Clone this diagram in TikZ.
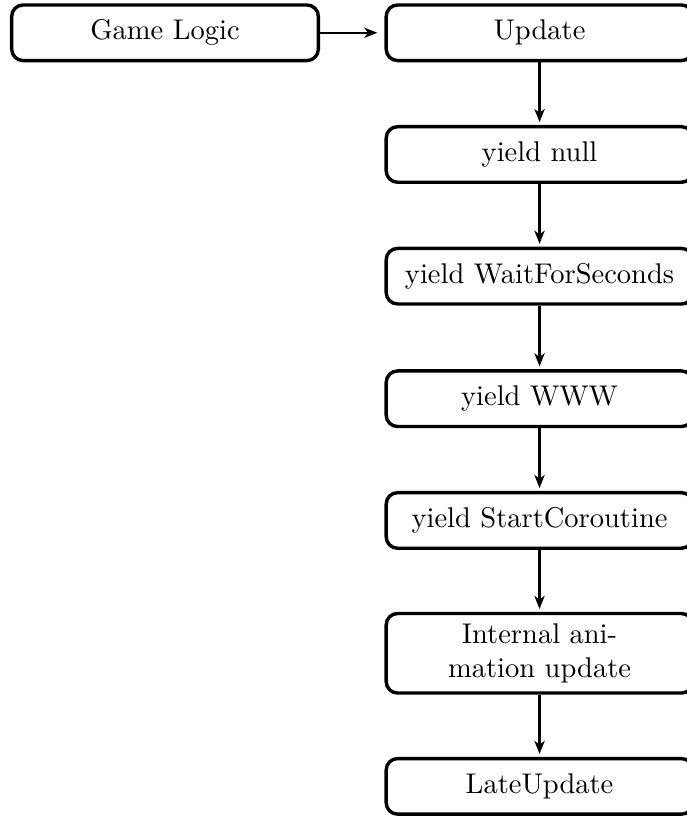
\documentclass[tikz,border=0pt]{standalone}
\usetikzlibrary{arrows.meta}
\begin{document}
\begin{tikzpicture}[x=1pt,y=1pt,
  stage/.style={draw, very thick, rounded corners=4pt, minimum width=107.6pt,
    minimum height=19.5pt, align=center, inner sep=2pt},
  flow/.style={thick, -{Stealth[length=4.6pt,width=3.6pt,inset=1.3pt]}, shorten >=1pt}]
\useasboundingbox (0,0) rectangle (240.7,-286.3);
% left: entry point
\node[stage] (logic) at (57.9,-11.5) {Game Logic};
% right: frame sequence
\node[stage] (update) at (189.3,-11.5) {Update};
\node[stage] (ynull) at (189.3,-54.2) {yield null};
\node[stage] (ywait) at (189.3,-96.9) {yield WaitForSeconds};
\node[stage] (ywww) at (189.3,-139.9) {yield WWW};
\node[stage] (ycor) at (189.3,-182.6) {yield StartCoroutine};
\node[stage, minimum height=27.9pt] (anim) at (189.3,-229.2) {Internal ani-\\mation update};
\node[stage] (late) at (189.3,-275.9) {LateUpdate};
% connectors
\draw[flow, shorten >=2.5pt] (logic) -- (update);
\draw[flow] (update) -- (ynull);
\draw[flow] (ynull) -- (ywait);
\draw[flow] (ywait) -- (ywww);
\draw[flow] (ywww) -- (ycor);
\draw[flow] (ycor) -- (anim);
\draw[flow] (anim) -- (late);
\end{tikzpicture}
\end{document}
